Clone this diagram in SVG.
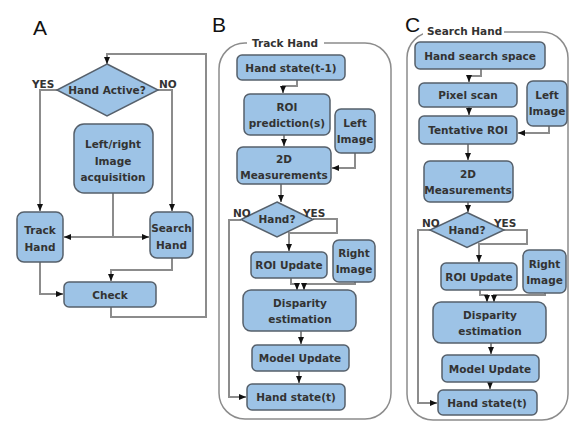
<svg xmlns="http://www.w3.org/2000/svg" width="569" height="422" viewBox="0 0 569 422">
<defs>
<marker id="ah" markerUnits="userSpaceOnUse" markerWidth="8" markerHeight="8" refX="7" refY="3" orient="auto">
<path d="M0,0 L7,3 L0,6 z" fill="#111"/>
</marker>
</defs>
<style>
.box{fill:#9dc3e6;stroke:#56606b;stroke-width:1.5}
.t{font-family:"DejaVu Sans",sans-serif;font-weight:bold;font-size:10.5px;fill:#333;text-anchor:middle}
.lbl{font-family:"DejaVu Sans",sans-serif;font-weight:bold;font-size:10.5px;fill:#333}
.pl{font-family:"Liberation Sans",Arial,sans-serif;font-size:21px;fill:#111}
.c{fill:none;stroke:#8c8c8c;stroke-width:2}
.ca{fill:none;stroke:#8c8c8c;stroke-width:2;marker-end:url(#ah)}
.cont{fill:none;stroke:#8c8c8c;stroke-width:1.5}
</style>
<rect width="569" height="422" fill="#fff"/>

<g id="labels">
<text class="pl" x="33" y="35">A</text>
<text class="pl" x="212" y="32">B</text>
<text class="pl" x="405" y="32">C</text>
</g>

<g id="containers">
<rect class="cont" x="219" y="43" width="172" height="376" rx="26"/>
<rect x="247" y="36" width="77" height="14" fill="#fff"/>
<text class="lbl" x="252" y="47">Track Hand</text>
<rect class="cont" x="407" y="32" width="161" height="388" rx="26"/>
<rect x="423" y="25" width="81" height="14" fill="#fff"/>
<text class="lbl" x="427" y="35">Search Hand</text>
</g>

<g id="connectors">
<!-- A -->
<path class="ca" d="M111,307 V317 H206 V54 H107 V64"/>
<path class="ca" d="M57,90 H40 V211"/>
<path class="ca" d="M158,90 H172 V211"/>
<path class="c" d="M113,193 V237"/>
<path class="ca" d="M113,237 H64"/>
<path class="ca" d="M113,237 H149"/>
<path class="ca" d="M40,262 V294 H63"/>
<path class="ca" d="M172,258 V270 H111 V281"/>
<!-- B -->
<path class="ca" d="M297,80 V86 H283 V93"/>
<path class="ca" d="M284,135 V146"/>
<path class="ca" d="M355,153 V168 H332"/>
<path class="ca" d="M281,184 V202"/>
<path class="ca" d="M241,220 H229 V397 H246"/>
<path class="ca" d="M313,219 H337 V233 H289 V251"/>
<path class="ca" d="M291,278 V284 H297 V290"/>
<path class="ca" d="M355,282 V284 H304 V290"/>
<path class="ca" d="M301,331 V344"/>
<path class="ca" d="M299,371 V383"/>
<!-- C -->
<path class="ca" d="M481,69 V76 H469 V82"/>
<path class="ca" d="M469,107 V115"/>
<path class="ca" d="M549,126 V133 H518"/>
<path class="ca" d="M468,144 V160"/>
<path class="ca" d="M468,202 V212"/>
<path class="ca" d="M430,230 H418 V403 H437"/>
<path class="ca" d="M504,230 H527 V244 H479 V262"/>
<path class="ca" d="M480,290 V295 H487 V302"/>
<path class="ca" d="M545,293 V295 H494 V302"/>
<path class="ca" d="M491,343 V354"/>
<path class="ca" d="M490,382 V389"/>
</g>

<g id="A-active">
<polygon class="box" points="107,64 158,90 107,116 57,90"/>
<text class="t" x="107" y="94">Hand Active?</text>
<text class="lbl" x="32" y="88">YES</text>
<text class="lbl" x="159" y="88">NO</text>
</g>
<g id="A-acq">
<rect class="box" x="74" y="124" width="79" height="69" rx="10"/>
<text class="t" x="113" y="148">Left/right</text>
<text class="t" x="113" y="165">Image</text>
<text class="t" x="113" y="181">acquisition</text>
</g>
<g id="A-track">
<rect class="box" x="17" y="212" width="46" height="50" rx="7"/>
<text class="t" x="40" y="234">Track</text>
<text class="t" x="40" y="251">Hand</text>
</g>
<g id="A-search">
<rect class="box" x="150" y="212" width="43" height="46" rx="7"/>
<text class="t" x="171.5" y="232">Search</text>
<text class="t" x="171.5" y="249">Hand</text>
</g>
<g id="A-check">
<rect class="box" x="64" y="282" width="92" height="25" rx="5"/>
<text class="t" x="110" y="299">Check</text>
</g>

<g id="B-state0">
<rect class="box" x="237" y="55" width="108" height="25" rx="5"/>
<text class="t" x="291" y="72">Hand state(t-1)</text>
</g>
<g id="B-roipred">
<rect class="box" x="244" y="94" width="86" height="41" rx="6"/>
<text class="t" x="287" y="111">ROI</text>
<text class="t" x="287" y="127">prediction(s)</text>
</g>
<g id="B-left">
<rect class="box" x="335" y="109" width="40" height="44" rx="6"/>
<text class="t" x="355" y="127">Left</text>
<text class="t" x="355" y="143">Image</text>
</g>
<g id="B-2d">
<rect class="box" x="237" y="147" width="94" height="37" rx="6"/>
<text class="t" x="284" y="163">2D</text>
<text class="t" x="284" y="179">Measurements</text>
</g>
<g id="B-hand">
<polygon class="box" points="277,202 313,219.5 277,237 241,219.5"/>
<text class="t" x="277" y="223">Hand?</text>
<text class="lbl" x="233" y="217">NO</text>
<text class="lbl" x="303" y="217">YES</text>
</g>
<g id="B-roiupd">
<rect class="box" x="251" y="252" width="76" height="26" rx="5"/>
<text class="t" x="289" y="269">ROI Update</text>
</g>
<g id="B-right">
<rect class="box" x="333" y="240" width="42" height="42" rx="6"/>
<text class="t" x="354" y="257">Right</text>
<text class="t" x="354" y="273">Image</text>
</g>
<g id="B-disp">
<rect class="box" x="243" y="290" width="113" height="41" rx="8"/>
<text class="t" x="300" y="307">Disparity</text>
<text class="t" x="300" y="323">estimation</text>
</g>
<g id="B-model">
<rect class="box" x="252" y="345" width="97" height="26" rx="5"/>
<text class="t" x="300" y="362">Model Update</text>
</g>
<g id="B-state">
<rect class="box" x="247" y="384" width="98" height="26" rx="5"/>
<text class="t" x="296" y="401">Hand state(t)</text>
</g>

<g id="C-space">
<rect class="box" x="415" y="42" width="130" height="27" rx="5"/>
<text class="t" x="480" y="60">Hand search space</text>
</g>
<g id="C-pixel">
<rect class="box" x="419" y="83" width="98" height="24" rx="5"/>
<text class="t" x="468" y="99">Pixel scan</text>
</g>
<g id="C-left">
<rect class="box" x="527" y="81" width="40" height="45" rx="6"/>
<text class="t" x="547" y="99">Left</text>
<text class="t" x="547" y="115">Image</text>
</g>
<g id="C-tent">
<rect class="box" x="419" y="116" width="98" height="28" rx="5"/>
<text class="t" x="468" y="134">Tentative ROI</text>
</g>
<g id="C-2d">
<rect class="box" x="424" y="161" width="89" height="41" rx="6"/>
<text class="t" x="468" y="178">2D</text>
<text class="t" x="468" y="194">Measurements</text>
</g>
<g id="C-hand">
<polygon class="box" points="467,212.5 504,230 467,247.5 430,230"/>
<text class="t" x="467" y="234">Hand?</text>
<text class="lbl" x="422" y="227">NO</text>
<text class="lbl" x="494" y="227">YES</text>
</g>
<g id="C-roiupd">
<rect class="box" x="441" y="263" width="76" height="27" rx="5"/>
<text class="t" x="479" y="281">ROI Update</text>
</g>
<g id="C-right">
<rect class="box" x="523" y="250" width="43" height="43" rx="6"/>
<text class="t" x="544.5" y="268">Right</text>
<text class="t" x="544.5" y="284">Image</text>
</g>
<g id="C-disp">
<rect class="box" x="433" y="302" width="113" height="41" rx="8"/>
<text class="t" x="490" y="319">Disparity</text>
<text class="t" x="490" y="335">estimation</text>
</g>
<g id="C-model">
<rect class="box" x="442" y="355" width="97" height="27" rx="5"/>
<text class="t" x="490" y="373">Model Update</text>
</g>
<g id="C-state">
<rect class="box" x="438" y="390" width="99" height="25" rx="5"/>
<text class="t" x="487" y="407">Hand state(t)</text>
</g>
</svg>
